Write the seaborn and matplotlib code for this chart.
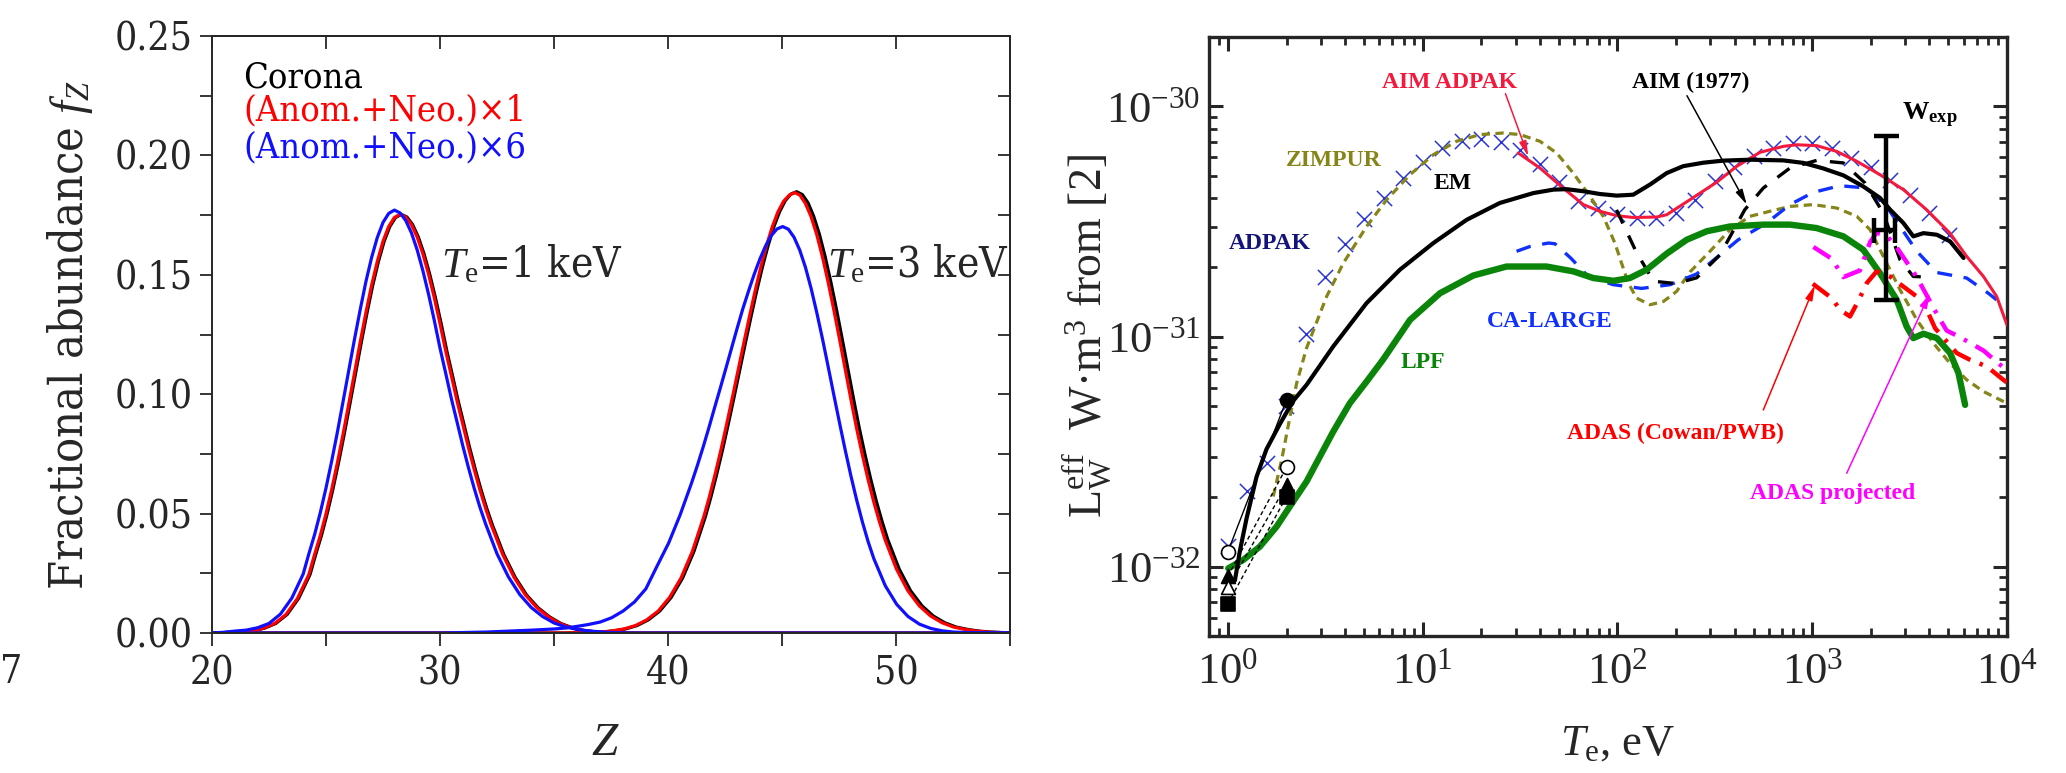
import numpy as np
import matplotlib
matplotlib.use("Agg")
import matplotlib.pyplot as plt
import seaborn as sns
from matplotlib.ticker import LogLocator, NullFormatter

# ======================= LEFT PANEL DATA (fractional abundance vs Z) =======================
# Te = 1 keV, (Anom.+Neo.)x1 (red)
anom1_1kev_Z = [20, 21.25, 21.75, 22.25, 22.75, 23.25, 23.75, 24.25, 24.5, 24.75, 25.0, 25.25, 25.5, 25.75,
                26.0, 26.25, 26.5, 26.75, 27.0, 27.25, 27.5, 27.75, 28.0, 28.25, 28.5, 28.75, 29.0, 29.25,
                29.5, 29.75, 30.0, 30.25, 30.5, 30.75, 31.0, 31.25, 31.5, 31.75, 32.0, 32.25, 32.75, 33.25,
                33.75, 34.25, 34.75, 35.25, 35.75, 36.25, 36.75, 37.25, 38.5, 55]
anom1_1kev_f = [0, 0.0004, 0.0009, 0.002, 0.004, 0.0078, 0.0145, 0.0245, 0.0329, 0.0408, 0.0499, 0.0601,
                0.0713, 0.0833, 0.0960, 0.1089, 0.1218, 0.1341, 0.1456, 0.1556, 0.1640, 0.1702, 0.1740,
                0.1753, 0.1742, 0.1710, 0.1658, 0.1588, 0.1502, 0.1404, 0.1296, 0.1181, 0.1077, 0.0971,
                0.0874, 0.0776, 0.0685, 0.0600, 0.0522, 0.0452, 0.0329, 0.0233, 0.0159, 0.0106, 0.0068,
                0.0040, 0.0022, 0.0011, 0.0005, 0.0002, 0, 0]

# Te = 1 keV, Corona (black, almost hidden under red)
corona_1kev_Z = [20, 21.3, 21.8, 22.3, 22.8, 23.3, 23.8, 24.3, 24.55, 24.8, 25.05, 25.3, 25.55, 25.8,
                 26.05, 26.3, 26.55, 26.8, 27.05, 27.3, 27.55, 27.8, 28.05, 28.3, 28.55, 28.8, 29.05, 29.3,
                 29.55, 29.8, 30.05, 30.3, 30.55, 30.8, 31.05, 31.3, 31.55, 31.8, 32.05, 32.3, 32.8, 33.3,
                 33.8, 34.3, 34.8, 35.3, 35.8, 36.3, 36.8, 37.3, 38.5, 55]
corona_1kev_f = list(anom1_1kev_f)

# Te = 1 keV, (Anom.+Neo.)x6 (blue)
anom6_1kev_Z = [20, 20.5, 21.0, 21.5, 22.0, 22.5, 23.0, 23.5, 24.0, 24.25, 24.5, 24.75, 25.0, 25.25, 25.5,
                25.75, 26.0, 26.25, 26.5, 26.75, 27.0, 27.25, 27.5, 27.75, 28.0, 28.25, 28.5, 28.75, 29.0,
                29.25, 29.5, 29.75, 30.0, 30.25, 30.5, 30.75, 31.0, 31.25, 31.5, 31.75, 32.0, 32.5, 33.0,
                33.5, 34.0, 34.5, 35.0, 35.5, 36.0, 36.5, 37.0, 37.5, 38.5, 55]
anom6_1kev_f = [0, 0.0003, 0.0008, 0.0012, 0.0022, 0.0040, 0.0079, 0.0146, 0.0247, 0.0332, 0.0412, 0.0504,
                0.0607, 0.0720, 0.0841, 0.0970, 0.1100, 0.1230, 0.1354, 0.1471, 0.1572, 0.1656, 0.1719,
                0.1757, 0.1771, 0.1759, 0.1727, 0.1675, 0.1604, 0.1517, 0.1418, 0.1309, 0.1193, 0.1088,
                0.0981, 0.0883, 0.0784, 0.0692, 0.0606, 0.0527, 0.0457, 0.0332, 0.0235, 0.0161, 0.0107,
                0.0069, 0.0042, 0.0026, 0.0015, 0.0009, 0.0005, 0.0002, 0, 0]

# Te = 3 keV, Corona (black)
corona_3kev_Z = [20, 35.5, 36.64, 37.14, 37.64, 38.14, 38.64, 39.14, 39.64, 40.14, 40.64, 41.14, 41.64,
                 41.89, 42.14, 42.39, 42.64, 42.89, 43.14, 43.39, 43.64, 43.89, 44.14, 44.39, 44.64, 44.89,
                 45.14, 45.39, 45.64, 45.89, 46.14, 46.39, 46.64, 46.89, 47.14, 47.39, 47.64, 47.89, 48.14,
                 48.39, 48.64, 48.89, 49.14, 49.39, 49.64, 50.14, 50.64, 51.14, 51.64, 52.14, 52.64, 53.14,
                 53.64, 54.14, 54.64, 55]
corona_3kev_f = [0, 0, 0.0002, 0.0004, 0.0009, 0.0017, 0.0031, 0.0055, 0.0092, 0.0149, 0.0230, 0.0342,
                 0.0487, 0.0572, 0.0666, 0.0766, 0.0873, 0.0984, 0.1098, 0.1212, 0.1324, 0.1432, 0.1532,
                 0.1622, 0.1700, 0.1763, 0.1810, 0.1838, 0.1848, 0.1836, 0.1802, 0.1745, 0.1670, 0.1577,
                 0.1471, 0.1355, 0.1232, 0.1106, 0.0980, 0.0858, 0.0748, 0.0645, 0.0551, 0.0467, 0.0391,
                 0.0268, 0.0177, 0.0114, 0.0071, 0.0043, 0.0025, 0.0015, 0.0008, 0.0004, 0.0002, 0]

# Te = 3 keV, (Anom.+Neo.)x1 (red)
anom1_3kev_Z = [20, 35.4, 36.57, 37.07, 37.57, 38.07, 38.57, 39.07, 39.57, 40.07, 40.57, 41.07, 41.57,
                41.82, 42.07, 42.32, 42.57, 42.82, 43.07, 43.32, 43.57, 43.82, 44.07, 44.32, 44.57, 44.82,
                45.07, 45.32, 45.57, 45.79, 46.02, 46.27, 46.52, 46.77, 47.02, 47.27, 47.52, 47.77, 48.02,
                48.27, 48.52, 48.77, 49.02, 49.27, 49.52, 50.02, 50.52, 51.02, 51.52, 52.02, 52.52, 53.02,
                53.52, 54.02, 54.52, 55]
anom1_3kev_f = [0, 0, 0.0002, 0.0004, 0.0009, 0.0017, 0.0031, 0.0055, 0.0092, 0.0149, 0.0230, 0.0342,
                0.0487, 0.0572, 0.0666, 0.0766, 0.0873, 0.0984, 0.1098, 0.1212, 0.1324, 0.1432, 0.1532,
                0.1622, 0.1700, 0.1763, 0.1808, 0.1834, 0.1844, 0.1833, 0.1800, 0.1745, 0.1670, 0.1577,
                0.1471, 0.1355, 0.1232, 0.1106, 0.0980, 0.0858, 0.0748, 0.0645, 0.0551, 0.0467, 0.0391,
                0.0268, 0.0177, 0.0114, 0.0071, 0.0043, 0.0025, 0.0015, 0.0008, 0.0004, 0.0002, 0]

# Te = 3 keV, (Anom.+Neo.)x6 (blue)
anom6_3kev_Z = [20, 30.03, 31.03, 32.03, 33.03, 34.03, 35.03, 35.53, 36.03, 36.53, 37.03, 37.53, 38.03,
                38.53, 39.03, 39.53, 40.03, 40.53, 41.03, 41.28, 41.53, 41.78, 42.03, 42.28, 42.53, 42.78,
                43.03, 43.28, 43.53, 43.78, 44.03, 44.28, 44.53, 44.78, 45.03, 45.28, 45.53, 45.78, 46.03,
                46.28, 46.53, 46.78, 47.03, 47.28, 47.53, 47.78, 48.03, 48.28, 48.53, 48.78, 49.03, 49.53,
                50.03, 50.53, 51.03, 51.53, 52.03, 52.53, 53.03, 55]
anom6_3kev_f = [0, 0, 0.0002, 0.0004, 0.0008, 0.0012, 0.0017, 0.0021, 0.0028, 0.0036, 0.0046, 0.0064,
                0.0092, 0.0130, 0.0185, 0.0282, 0.0377, 0.0494, 0.0627, 0.0699, 0.0775, 0.0855, 0.0939,
                0.1021, 0.1105, 0.1190, 0.1275, 0.1357, 0.1431, 0.1502, 0.1566, 0.1621, 0.1664, 0.1692,
                0.1702, 0.1691, 0.1657, 0.1603, 0.1531, 0.1442, 0.1340, 0.1230, 0.1113, 0.0994, 0.0877,
                0.0763, 0.0655, 0.0555, 0.0464, 0.0382, 0.0311, 0.0198, 0.0120, 0.0069, 0.0037, 0.0019,
                0.0009, 0.0004, 0.0002, 0]

left_xticks = [20, 30, 40, 50]
left_xtick_labels = ["20", "30", "40", "50"]
left_xminor = [25, 35, 45, 55]
left_top_ticks = [20, 25, 30, 35, 40, 45, 50]
left_yticks = [0.0, 0.05, 0.10, 0.15, 0.20, 0.25]
left_ytick_labels = ["0.00", "0.05", "0.10", "0.15", "0.20", "0.25"]
left_yminor = [0.025, 0.075, 0.125, 0.175, 0.225]
legend_texts = ["Corona", "(Anom.+Neo.)×1", "(Anom.+Neo.)×6"]

# ======================= RIGHT PANEL DATA (log10 T [eV], log10 L [W m^3]) =======================
adpak_logT = [0.0, 0.1, 0.2, 0.3, 0.4, 0.5, 0.6, 0.7, 0.8, 0.9, 1.0, 1.1, 1.2, 1.3, 1.4, 1.5, 1.6, 1.7, 1.8,
              1.9, 2.0, 2.1, 2.2, 2.3, 2.4, 2.5, 2.6, 2.7, 2.8, 2.9, 3.0, 3.1, 3.2, 3.3, 3.4, 3.5, 3.6, 3.7]
adpak_logL = [-31.91, -31.67, -31.55, -31.30, -30.99, -30.74, -30.60, -30.49, -30.40, -30.31, -30.24, -30.18,
              -30.15, -30.14, -30.155, -30.19, -30.25, -30.33, -30.41, -30.44, -30.47, -30.485, -30.485,
              -30.464, -30.405, -30.326, -30.264, -30.214, -30.181, -30.159, -30.159, -30.181, -30.225,
              -30.264, -30.319, -30.384, -30.464, -30.558]

aim_adpak_logT = [1.491, 1.602, 1.721, 1.825, 1.910, 1.996, 2.081, 2.201, 2.253, 2.372, 2.509, 2.612, 2.732,
                  2.852, 2.921, 3.023, 3.126, 3.229, 3.348, 3.468, 3.587, 3.707, 3.793, 3.879, 3.947, 4.0]
aim_adpak_logL = [-30.203, -30.268, -30.355, -30.427, -30.456, -30.475, -30.483, -30.481, -30.471, -30.406,
                  -30.33, -30.261, -30.200, -30.174, -30.167, -30.171, -30.196, -30.239, -30.297, -30.362,
                  -30.449, -30.551, -30.652, -30.739, -30.826, -30.95]

zimpur_logT = [0.233, 0.276, 0.319, 0.353, 0.404, 0.507, 0.593, 0.712, 0.815, 0.935, 1.055, 1.174, 1.294,
               1.414, 1.500, 1.602, 1.688, 1.773, 1.859, 1.927, 1.987, 2.021, 2.056, 2.098, 2.167, 2.236,
               2.304, 2.372, 2.475, 2.578, 2.680, 2.783, 2.886, 3.005, 3.126, 3.229, 3.297, 3.365, 3.451,
               3.537, 3.622, 3.707, 3.793, 3.879, 4.0]
zimpur_logL = [-31.695, -31.536, -31.348, -31.203, -31.05, -30.826, -30.681, -30.522, -30.406, -30.297,
               -30.210, -30.152, -30.123, -30.116, -30.123, -30.152, -30.203, -30.290, -30.391, -30.478,
               -30.594, -30.681, -30.768, -30.833, -30.862, -30.848, -30.804, -30.72, -30.63, -30.536,
               -30.478, -30.456, -30.435, -30.427, -30.442, -30.478, -30.536, -30.652, -30.797, -30.928,
               -31.029, -31.116, -31.188, -31.239, -31.29]

em_logT = [0.036, 0.062, 0.096, 0.147, 0.198, 0.267, 0.335, 0.404, 0.541, 0.712, 0.883, 1.055, 1.226,
           1.396, 1.568, 1.671, 1.739, 1.825, 1.910, 1.996, 2.081, 2.167, 2.253, 2.338, 2.441, 2.543,
           2.680, 2.852, 2.955, 3.057, 3.160, 3.262, 3.348, 3.400, 3.468, 3.519, 3.571, 3.640, 3.708, 3.777]
em_logL = [-32.06, -31.93, -31.79, -31.61, -31.49, -31.38, -31.28, -31.21, -31.043, -30.855, -30.71,
           -30.594, -30.493, -30.42, -30.377, -30.362, -30.36, -30.369, -30.381, -30.388, -30.384, -30.34,
           -30.29, -30.26, -30.245, -30.236, -30.232, -30.235, -30.246, -30.27, -30.30, -30.348, -30.398,
           -30.449, -30.507, -30.565, -30.551, -30.558, -30.587, -30.659]

aim1977_logT = [1.995, 2.095, 2.185, 2.30, 2.407, 2.527, 2.654, 2.749, 2.886, 3.023, 3.160, 3.271, 3.365,
                3.451, 3.519, 3.587]
aim1977_logL = [-30.45, -30.63, -30.76, -30.77, -30.745, -30.645, -30.449, -30.355, -30.268, -30.235,
                -30.246, -30.333, -30.464, -30.667, -30.739, -30.742]

calarge_logT = [1.482, 1.551, 1.645, 1.679, 1.760, 1.850, 1.979, 2.124, 2.270, 2.407, 2.520, 2.620, 2.766,
                2.886, 3.005, 3.142, 3.279, 3.382, 3.468, 3.537, 3.639, 3.793, 3.904, 3.947]
calarge_logL = [-30.630, -30.609, -30.594, -30.597, -30.659, -30.739, -30.775, -30.791, -30.775, -30.728,
                -30.65, -30.580, -30.507, -30.427, -30.374, -30.345, -30.355, -30.435, -30.543, -30.630,
                -30.722, -30.746, -30.812, -30.841]

lpf_logT = [0.002, 0.078, 0.164, 0.250, 0.335, 0.404, 0.472, 0.541, 0.626, 0.712, 0.797, 0.935, 1.089,
            1.260, 1.431, 1.636, 1.773, 1.876, 1.979, 2.064, 2.150, 2.253, 2.355, 2.458, 2.578, 2.749,
            2.886, 3.023, 3.160, 3.262, 3.348, 3.434, 3.485, 3.519, 3.571, 3.640, 3.708, 3.751, 3.785]
lpf_logL = [-32.007, -31.971, -31.913, -31.826, -31.717, -31.630, -31.522, -31.413, -31.290, -31.196,
            -31.100, -30.928, -30.812, -30.735, -30.696, -30.696, -30.717, -30.746, -30.758, -30.746,
            -30.710, -30.640, -30.580, -30.543, -30.522, -30.514, -30.514, -30.529, -30.565, -30.623,
            -30.725, -30.841, -30.957, -31.007, -30.988, -31.007, -31.072, -31.159, -31.297]

adas_logT = [3.003, 3.100, 3.143, 3.194, 3.240, 3.280, 3.331, 3.40, 3.536, 3.588, 3.631, 3.742, 3.810,
             3.896, 3.981, 4.0]
adas_logL = [-30.771, -30.833, -30.884, -30.913, -30.84, -30.768, -30.717, -30.74, -30.826, -30.884,
             -30.964, -31.072, -31.101, -31.130, -31.188, -31.20]

adasproj_logT = [3.006, 3.100, 3.160, 3.245, 3.297, 3.330, 3.38, 3.434, 3.537, 3.639, 3.690, 3.759, 3.879, 4.0]
adasproj_logL = [-30.611, -30.662, -30.742, -30.713, -30.59, -30.55, -30.56, -30.613, -30.742, -30.901,
                 -30.974, -31.003, -31.061, -31.148]

# low-temperature experimental points (T = 1 and 2 eV)
exp_T = [1.0, 2.0]
exp_a_logL = [-31.935, -31.275]
exp_b_logL = [-32.041, -31.568]
exp_c_logL = [-32.090, -31.645]
exp_d_logL = [-32.160, -31.696]

# W_exp measurement
wexp_T = 2382.0
wexp_T_lo, wexp_T_hi = 2075.0, 2661.0
wexp_L = 2.91e-31
wexp_L_lo, wexp_L_hi = 1.445e-31, 7.41e-31

right_xticks = [1, 10, 100, 1000, 10000]
right_xtick_labels = [r"$\mathrm{10^{0}}$", r"$\mathrm{10^{1}}$", r"$\mathrm{10^{2}}$",
                      r"$\mathrm{10^{3}}$", r"$\mathrm{10^{4}}$"]
right_yticks = [1e-32, 1e-31, 1e-30]
right_ytick_labels = [r"$\mathrm{10^{-32}}$", r"$\mathrm{10^{-31}}$", r"$\mathrm{10^{-30}}$"]

# ======================= STYLE =======================
sns.set_style("ticks")
plt.rcParams["font.family"] = ["DejaVu Serif Condensed", "DejaVu Serif"]
plt.rcParams["mathtext.fontset"] = "custom"
plt.rcParams["mathtext.rm"] = "Liberation Serif"
plt.rcParams["mathtext.it"] = "Liberation Serif:italic"
plt.rcParams["mathtext.bf"] = "Liberation Serif:bold"

LF = dict(family=["DejaVu Serif Condensed", "DejaVu Serif"], stretch="condensed")
RF = dict(family=["Liberation Serif", "DejaVu Serif"])

fig = plt.figure(figsize=(20.66, 7.73), dpi=100)
ax1 = fig.add_axes([0.10261, 0.18111, 0.38625, 0.77232])
ax2 = fig.add_axes([0.58519, 0.17723, 0.38625, 0.77490])

# ======================= LEFT PANEL =======================
left_series = [
    (corona_1kev_Z, corona_1kev_f, "black"),
    (corona_3kev_Z, corona_3kev_f, "black"),
    (anom1_1kev_Z, anom1_1kev_f, "#ff0000"),
    (anom1_3kev_Z, anom1_3kev_f, "#ff0000"),
    (anom6_1kev_Z, anom6_1kev_f, "#1010ff"),
    (anom6_3kev_Z, anom6_3kev_f, "#1010ff"),
]
for Z, f, c in left_series:
    sns.lineplot(x=Z, y=f, ax=ax1, color=c, lw=2.3, estimator=None, sort=False)

ax1.set_xlim(20, 55)
ax1.set_ylim(0, 0.25)
ax1.set_xticks(left_xticks)
ax1.set_xticks(left_xminor, minor=True)
ax1.set_xticklabels(left_xtick_labels, fontsize=28, **LF)
ax1.set_yticks(left_yticks)
ax1.set_yticks(left_yminor, minor=True)
ax1.set_yticklabels(left_ytick_labels, fontsize=28, **LF)
ax1.tick_params(which="major", direction="out", length=9, width=1.3, pad=5)
ax1.tick_params(which="minor", direction="out", length=9, width=1.3)
ax1.tick_params(axis="x", which="major", pad=7)
for s in ax1.spines.values():
    s.set_linewidth(1.4)
    s.set_visible(True)

secx = ax1.secondary_xaxis("top")
secx.set_xticks(left_top_ticks)
secx.xaxis.set_major_formatter(NullFormatter())
secx.tick_params(direction="in", length=9, width=1.3)
secx.spines["top"].set_linewidth(1.4)
secy = ax1.secondary_yaxis("right")
secy.set_yticks(left_yticks + left_yminor)
secy.yaxis.set_major_formatter(NullFormatter())
secy.tick_params(direction="in", length=9, width=1.3)
secy.spines["right"].set_linewidth(1.4)

ax1.set_xlabel("$Z$", fontsize=34)
ax1.xaxis.set_label_coords(0.4925, -0.184)
ax1.xaxis.label.set_va("center")
ax1.set_ylabel("Fractional abundance $f_Z$", fontsize=33.5, **LF)
ax1.yaxis.set_label_coords(-0.178, 0.5)
ax1.yaxis.label.set_va("center")

legend_colors = ["black", "#ff0000", "#1010ff"]
legend_y = [0.9305, 0.8752, 0.8132]
for t, c, yy in zip(legend_texts, legend_colors, legend_y):
    ax1.text(0.0388, yy, t, color=c, fontsize=26, ha="left", va="center", transform=ax1.transAxes, **LF)

ax1.text(0.287, 0.6164, r"$T_\mathrm{e}$=1 keV", fontsize=30.5, ha="left", va="center",
         transform=ax1.transAxes, **LF)
ax1.text(0.771, 0.6164, r"$T_\mathrm{e}$=3 keV", fontsize=30.5, ha="left", va="center",
         transform=ax1.transAxes, **LF)

fig.text(0.0053, 0.130, "7", fontsize=28, ha="center", va="center", **LF)

# ======================= RIGHT PANEL =======================
ax2.set_xscale("log")
ax2.set_yscale("log")

def P(logv):
    return np.power(10.0, np.asarray(logv, dtype=float))

sns.scatterplot(x=P(adpak_logT), y=P(adpak_logL), ax=ax2, marker="x", s=120, color="#2b35d6",
                linewidth=1.1, zorder=3)
sns.lineplot(x=P(zimpur_logT), y=P(zimpur_logL), ax=ax2, color="#85851a", lw=2.3,
             linestyle=(0, (2.6, 1.7)), estimator=None, sort=False, zorder=3)
sns.lineplot(x=P(calarge_logT), y=P(calarge_logL), ax=ax2, color="#1030ff", lw=2.4,
             linestyle=(0, (4.5, 3.5)), estimator=None, sort=False, zorder=3)
sns.lineplot(x=P(aim_adpak_logT), y=P(aim_adpak_logL), ax=ax2, color="#f41a3e", lw=2.2,
             estimator=None, sort=False, zorder=4)
sns.lineplot(x=P(aim1977_logT), y=P(aim1977_logL), ax=ax2, color="black", lw=2.4,
             linestyle=(0, (4.5, 4.0)), estimator=None, sort=False, zorder=4)
sns.lineplot(x=P(em_logT), y=P(em_logL), ax=ax2, color="black", lw=3.0,
             estimator=None, sort=False, zorder=5)
sns.lineplot(x=P(lpf_logT), y=P(lpf_logL), ax=ax2, color="#0a850a", lw=4.6,
             estimator=None, sort=False, zorder=4)
sns.lineplot(x=P(adas_logT), y=P(adas_logL), ax=ax2, color="#ff0000", lw=3.2,
             linestyle=(0, (4.5, 2.2, 0.8, 2.2)), estimator=None, sort=False, zorder=4)
sns.lineplot(x=P(adasproj_logT), y=P(adasproj_logL), ax=ax2, color="#ff00ff", lw=3.2,
             linestyle=(0, (4.5, 2.2, 0.8, 2.2)), estimator=None, sort=False, zorder=4)

# low-T experimental points
sns.lineplot(x=exp_T, y=P(exp_a_logL), ax=ax2, color="black", lw=1.0, estimator=None, sort=False, zorder=5)
for ll in (exp_b_logL, exp_c_logL, exp_d_logL):
    sns.lineplot(x=exp_T, y=P(ll), ax=ax2, color="black", lw=1.0, linestyle=(0, (3, 2)),
                 estimator=None, sort=False, zorder=5)
pts = [
    (exp_T[0], exp_a_logL[0], "o", "white"), (exp_T[1], exp_a_logL[1], "o", "black"),
    (exp_T[0], exp_b_logL[0], "^", "black"), (exp_T[1], exp_b_logL[1], "o", "white"),
    (exp_T[0], exp_c_logL[0], "^", "white"), (exp_T[1], exp_c_logL[1], "^", "black"),
    (exp_T[0], exp_d_logL[0], "s", "black"), (exp_T[1], exp_d_logL[1], "s", "black"),
]
for xx, ll, mk, fc in pts:
    sns.scatterplot(x=[xx], y=P([ll]), ax=ax2, marker=mk, s=100, color=fc, edgecolor="black",
                    linewidth=1.2, zorder=6)

ax2.errorbar([wexp_T], [wexp_L], xerr=[[wexp_T - wexp_T_lo], [wexp_T_hi - wexp_T]],
             yerr=[[wexp_L - wexp_L_lo], [wexp_L_hi - wexp_L]], fmt="none", ecolor="black",
             elinewidth=3.2, capsize=9, capthick=3.2, zorder=7)

ax2.set_xlim(0.8, 1e4)
ax2.set_ylim(5e-33, 2e-30)
ax2.set_xticks(right_xticks)
ax2.set_xticklabels(right_xtick_labels, fontsize=32, **RF)
ax2.set_yticks(right_yticks)
ax2.set_yticklabels(right_ytick_labels, fontsize=32, **RF)
ax2.xaxis.set_minor_locator(LogLocator(base=10, subs=np.arange(2, 10), numticks=20))
ax2.yaxis.set_minor_locator(LogLocator(base=10, subs=np.arange(2, 10), numticks=20))
ax2.xaxis.set_minor_formatter(NullFormatter())
ax2.yaxis.set_minor_formatter(NullFormatter())
ax2.tick_params(which="both", direction="in", top=True, right=True)
ax2.tick_params(which="major", length=10, width=2.2)
ax2.tick_params(which="minor", length=5.5, width=2.0)
ax2.tick_params(axis="x", which="major", pad=12)
ax2.tick_params(axis="y", which="major", pad=6)
for s in ax2.spines.values():
    s.set_linewidth(2.4)
    s.set_visible(True)

ax2.set_xlabel(r"$T_\mathrm{e}$, eV", fontsize=32, **RF)
ax2.xaxis.set_label_coords(0.5125, -0.18)
ax2.xaxis.label.set_va("center")
ax2.set_ylabel(r"L$_\mathrm{W}^\mathrm{eff}$  W·m$^3$ from [2]", fontsize=33, **RF)
ax2.yaxis.set_label_coords(-0.154, 0.5)
ax2.yaxis.label.set_va("center")

labels = [
    ("AIM ADPAK", 1.137, -29.897, "#f41a3e"),
    ("AIM (1977)", 2.375, -29.897, "black"),
    ("ZIMPUR", 0.544, -30.234, "#85851a"),
    ("EM", 1.154, -30.335, "black"),
    ("ADPAK", 0.215, -30.595, "#14147a"),
    ("CA-LARGE", 1.653, -30.936, "#1030ff"),
    ("LPF", 1.001, -31.114, "#0a850a"),
    ("ADAS (Cowan/PWB)", 2.297, -31.422, "#ff0000"),
    ("ADAS projected", 3.104, -31.68, "#ff00ff"),
]
for t, lx, ly, c in labels:
    ax2.text(10 ** lx, 10 ** ly, t, color=c, fontsize=17, fontweight="bold", ha="center", va="center",
             zorder=8, **RF)
ax2.text(10 ** 3.605, 10 ** -30.04, r"W$_{\mathbf{exp}}$", color="black", fontsize=19, fontweight="bold",
         ha="center", va="center", zorder=8, **RF)

arrows = [
    ((1.425, -29.945), (1.542, -30.217), "#f41a3e"),
    ((2.357, -29.954), (2.664, -30.427), "black"),
    ((2.749, -31.319), (3.014, -30.777), "#ff0000"),
    ((3.177, -31.594), (3.605, -30.811), "#ff00ff"),
]
for (tx, ty), (hx, hy), c in arrows:
    ax2.annotate("", xy=(10 ** hx, 10 ** hy), xytext=(10 ** tx, 10 ** ty),
                 arrowprops=dict(arrowstyle="-|>,head_length=0.9,head_width=0.22", color=c, lw=1.1,
                                 shrinkA=0, shrinkB=0), zorder=8)

fig.savefig("out.png", dpi=100)
